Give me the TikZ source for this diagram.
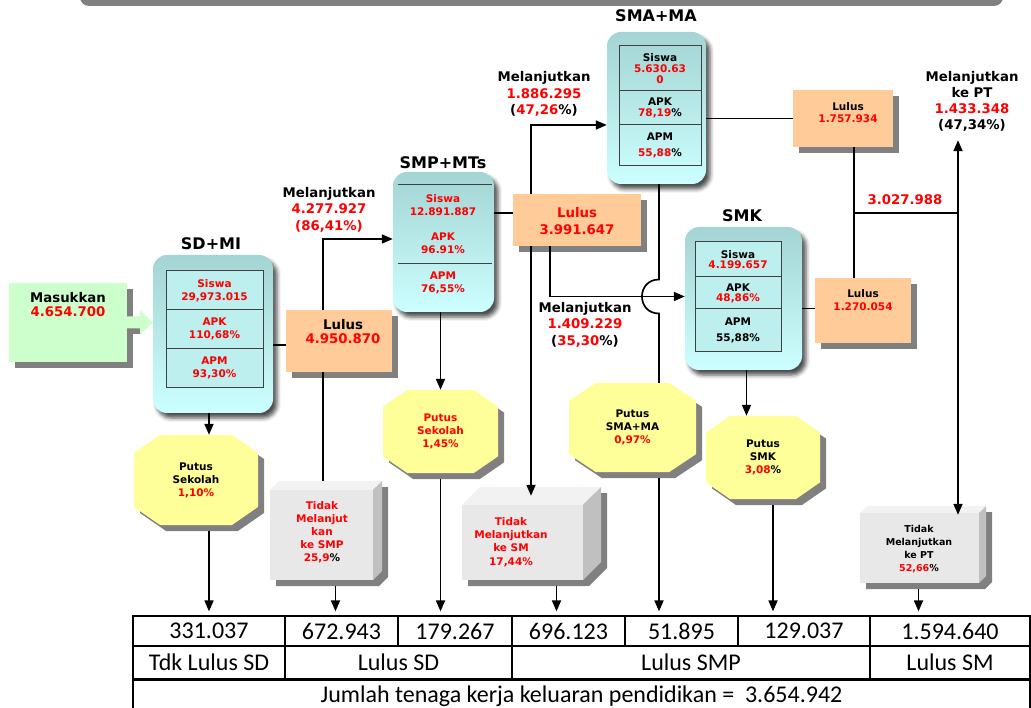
\documentclass[tikz,border=0pt]{standalone}
\usepackage{fontspec}
\setmainfont{DejaVu Sans}
\newfontfamily\tabfont{Carlito}
\usetikzlibrary{calc,shadows,shadows.blur,arrows.meta}
\definecolor{myred}{HTML}{FF0000}
\definecolor{peach}{HTML}{FFCC99}
\definecolor{lgreen}{HTML}{CCFFCC}
\definecolor{lyellow}{HTML}{FFFF99}
\definecolor{shadowgray}{HTML}{808080}
\definecolor{cyanlight}{HTML}{CCFFFF}
\definecolor{cyandark}{HTML}{A4D4D4}
\definecolor{cellfill}{HTML}{BDEFEF}
\definecolor{cellline}{HTML}{404040}
\definecolor{boxfront}{HTML}{E8E8E8}
\definecolor{boxtop}{HTML}{F2F2F2}
\definecolor{boxside}{HTML}{C0C0C0}
\newcommand\R[1]{\textcolor{myred}{#1}}
% octagon: name, cx, cy, half width, half height, fill, text
\newcommand\myocta[7]{%
  \foreach \s/\c in {6/shadowgray,0/#6}{%
    \fill[fill=\c] ({#2-0.58*#4+\s},{#3-#5+\s}) -- ({#2+0.58*#4+\s},{#3-#5+\s}) -- ({#2+#4+\s},{#3-0.6*#5+\s}) -- ({#2+#4+\s},{#3+0.6*#5+\s}) -- ({#2+0.58*#4+\s},{#3+#5+\s}) -- ({#2-0.58*#4+\s},{#3+#5+\s}) -- ({#2-#4+\s},{#3+0.6*#5+\s}) -- ({#2-#4+\s},{#3-0.6*#5+\s}) -- cycle;}
  \node[sml, minimum width=2*#4, minimum height=2*#5] (#1) at (#2,#3) {#7};}
% 3D box: name, x1, y1, x2, y2, depth
\newcommand\mycube[6]{%
  \fill[shadowgray] ({#2+6},{#3+6}) -- ({#2+#6+6},{#3-#6+6}) -- ({#4+#6+6},{#3-#6+6}) -- ({#4+#6+6},{#5-#6+6}) -- ({#4+6},{#5+6}) -- ({#2+6},{#5+6}) -- cycle;
  \fill[boxtop] (#2,#3) -- ({#2+#6},{#3-#6}) -- ({#4+#6},{#3-#6}) -- (#4,#3) -- cycle;
  \fill[boxside] (#4,#3) -- ({#4+#6},{#3-#6}) -- ({#4+#6},{#5-#6}) -- (#4,#5) -- cycle;
  \node[fill=boxfront, minimum width=#4-#2, minimum height=#5-#3, inner sep=0] (#1) at ({(#2+#4)/2},{(#3+#5)/2}) {};}
\begin{document}
\begin{tikzpicture}[x=1pt,y=-1pt,
  ln/.style={line width=1.7pt, draw=black},
  arr/.style={ln, -{Triangle[length=11pt,width=9pt]}},
  lbl/.style={font=\bfseries\fontsize{13.3}{16.5}\selectfont, align=center, inner sep=0},
  sml/.style={font=\bfseries\fontsize{10.5}{13}\selectfont, align=center, inner sep=0},
  ttl/.style={font=\bfseries\fontsize{16}{19}\selectfont, inner sep=0},
  rbox/.style={rounded corners=14pt, top color=cyandark, bottom color=cyanlight, inner sep=0,
    blur shadow={shadow xshift=4pt, shadow yshift=-5pt, shadow blur radius=4pt, shadow opacity=70}},
  cellb/.style={draw=cellline, line width=1pt, inner sep=0, sml},
  peachbox/.style={fill=peach, inner sep=0, drop shadow={shadow xshift=6pt, shadow yshift=-6pt, fill=shadowgray, opacity=1}},
  greenbox/.style={fill=lgreen, inner sep=0, drop shadow={shadow xshift=6pt, shadow yshift=-6pt, fill=shadowgray, opacity=1}},
  tcell/.style={draw=black, line width=1.2pt, inner sep=0, font=\tabfont\fontsize{24}{26}\selectfont}
]
\useasboundingbox (0,0) rectangle (1031,708);
% top bar
\fill[shadowgray, rounded corners=9pt] (80,-30) rectangle (1003,6);

% Masukkan
\node[greenbox, minimum width=118, minimum height=79] (mas) at (68,322.5) {};
\node[lbl, font=\bfseries\fontsize{13.3}{13.5}\selectfont] (mastext) at (68,304.5) {Masukkan\\\R{4.654.700}};

% SD+MI
\node[ttl] (sdmit) at (211,244) {SD+MI};
\node[rbox, minimum width=120, minimum height=158] (sdmi) at (213,334) {};
\node[cellb, fill=cellfill, minimum width=97, minimum height=38.7] (sd1) at (214.5,290.3) {\R{Siswa}\\\R{29,973.015}};
\node[cellb, fill=cellfill, minimum width=97, minimum height=38.7] (sd2) at (214.5,329) {\R{APK}\\\R{110,68\%}};
\node[cellb, fill=cellfill, minimum width=97, minimum height=38.7] (sd3) at (214.5,367.7) {\R{APM}\\\R{93,30\%}};

% green arrow
\fill[shadowgray] ($(mas.east)+(0,6)$) rectangle ($(mas.east)+(13,12)$);
\fill[lgreen] ($(mas.east)+(0,-6)$) -- ($(mas.east)+(13,-6)$) -- ($(mas.east)+(13,-12)$) -- (sdmi.west |- mas.east) -- ($(mas.east)+(13,12)$) -- ($(mas.east)+(13,6)$) -- ($(mas.east)+(0,6)$) -- cycle;

% SMP+MTs
\node[ttl] (smpt) at (443,163) {SMP+MTs};
\node[rbox, minimum width=101, minimum height=140] (smp) at (443.5,242) {};
\draw[line width=1.3pt, draw=cellline] ($(smp.north west)+(5,13)$) -- ($(smp.north east)+(-2,13)$);
\draw[line width=1.3pt, draw=cellline] ($(smp.north west)+(5,92)$) -- ($(smp.north east)+(-2,92)$);
\node[sml] (smp1) at (443,205) {\R{Siswa}\\\R{12.891.887}};
\node[sml] (smp2) at (443,243.5) {\R{APK}\\\R{96.91\%}};
\node[sml] (smp3) at (443,282.5) {\R{APM}\\\R{76,55\%}};

% SMA+MA
\node[ttl] (smat) at (656,16) {SMA+MA};
\node[rbox, minimum width=99, minimum height=152] (sma) at (656.5,108) {};
\node[cellb, minimum width=82, minimum height=45] (sa1) at (660,68.5) {Siswa\\[-2pt]\R{5.630.63}\\[-2pt]\R{0}};
\node[cellb, minimum width=82, minimum height=34] (sa2) at (660,108) {APK\\[-2pt]\R{78,19}\%};
\node[cellb, minimum width=82, minimum height=41] (sa3) at (660,145.5) {APM\\[3pt]\R{55,88}\%};

% SMK
\node[ttl] (smkt) at (742,216) {SMK};
\node[rbox, minimum width=117, minimum height=143] (smk) at (743.5,298.5) {};
\node[cellb, fill=cellfill, minimum width=86, minimum height=35] (sk1) at (738,259.5) {Siswa\\[-3pt]\R{4.199.657}};
\node[cellb, fill=cellfill, minimum width=86, minimum height=32] (sk2) at (738,293) {APK\\[-3pt]\R{48,86\%}};
\node[cellb, fill=cellfill, minimum width=86, minimum height=43] (sk3) at (738,330.5) {APM\\[3pt]55,88\%};

% Lulus boxes
\node[peachbox, minimum width=106, minimum height=62] (l1) at (339,341) {};
\node[lbl, font=\bfseries\fontsize{13.3}{14}\selectfont] (l1t) at (343,332) {Lulus\\\R{4.950.870}};
\node[peachbox, minimum width=128, minimum height=52] (l2) at (577,220) {};
\node[lbl] (l2t) at (577,221) {\R{Lulus}\\\R{3.991.647}};
\node[peachbox, minimum width=100, minimum height=57] (l3) at (843,118.5) {};
\node[sml, font=\bfseries\fontsize{10.5}{12}\selectfont] (l3t) at (848,113) {Lulus\\\R{1.757.934}};
\node[peachbox, minimum width=96, minimum height=65] (l4) at (863,310.5) {};
\node[sml] (l4t) at (863,300.5) {Lulus\\\R{1.270.054}};

% octagons
\myocta{o1}{196}{480}{62}{45}{lyellow}{Putus\\Sekolah\\\R{1,10\%}}
\myocta{o2}{440.5}{431.5}{57.5}{41.5}{lyellow}{\R{Putus}\\\R{Sekolah}\\\R{1,45\%}}
\myocta{o3}{632.5}{427.5}{63.5}{44.5}{lyellow}{Putus\\SMA+MA\\\R{0,97\%}}
\myocta{o4}{763}{457.5}{57}{41.5}{lyellow}{Putus\\SMK\\\R{3,08}\%}

% 3D boxes
\mycube{b1}{270}{490}{373}{580}{9}
\node[sml] (b1t) at (322,532) {\R{Tidak}\\\R{Melanjut}\\\R{kan}\\\R{ke SMP}\\\R{25,9}\%};
\mycube{b2}{462}{505}{583}{580}{18}
\node[sml, font=\bfseries\fontsize{10.5}{13.3}\selectfont] (b2t) at (511,542) {\R{Tidak}\\\R{Melanjutkan}\\\R{ke SM}\\\R{17,44\%}};
\mycube{b3}{860}{513}{979}{583}{7}
\node[sml, font=\bfseries\fontsize{9.5}{13}\selectfont] (b3t) at (919,549.5) {Tidak\\Melanjutkan\\ke PT\\\R{52,66}\%};

% labels
\node[lbl] (m1) at (329,209.5) {Melanjutkan\\\R{4.277.927}\\\R{(86,41\%)}};
\node[lbl] (m2) at (544,94) {Melanjutkan\\\R{1.886.295}\\(\R{47,26}\%)};
\node[lbl] (m3) at (585,324.5) {Melanjutkan\\\R{1.409.229}\\(\R{35,30}\%)};
\node[lbl, font=\bfseries\fontsize{13.3}{16}\selectfont] (m4) at (972,101) {Melanjutkan\\ke PT\\\R{1.433.348}\\(47,34\%)};
\node[lbl] (tot) at (905,200) {\R{3.027.988}};

% table
\node[tcell, minimum width=152, minimum height=30] (c1) at (209,631) {331.037};
\node[tcell, minimum width=113, minimum height=30] (c2) at (341.5,631) {672.943};
\node[tcell, minimum width=114, minimum height=30] (c3) at (455,631) {179.267};
\node[tcell, minimum width=113, minimum height=30] (c4) at (568.5,631) {696.123};
\node[tcell, minimum width=113, minimum height=30] (c5) at (681.5,631) {51.895};
\node[tcell, minimum width=132, minimum height=30] (c6) at (804,631) {129.037};
\node[tcell, minimum width=160, minimum height=30] (c7) at (950,631) {1.594.640};
\node[tcell, minimum width=152, minimum height=33] (d1) at (209,662.5) {Tdk Lulus SD};
\node[tcell, minimum width=227, minimum height=33] (d2) at (398.5,662.5) {Lulus SD};
\node[tcell, minimum width=358, minimum height=33] (d3) at (691,662.5) {Lulus SMP};
\node[tcell, minimum width=160, minimum height=33] (d4) at (950,662.5) {Lulus SM};
\node[tcell, minimum width=897, minimum height=34] (e1) at (581.5,696) {Jumlah tenaga kerja keluaran pendidikan = \ 3.654.942};
\draw[line width=2.4pt] (d1.south west) -- (d4.south east);

% connectors
\draw[ln] ($(sdmi.east |- l1.west)+(0,4)$) -- ($(l1.west)+(0,4)$);
\draw[arr] ($(l1.north)+(-16,0)$) |- ($(smp.west)+(0,-3)$);
\draw[ln] ($(l1.south)+(-16,0)$) -- ($(b1.north -| l1.south)+(-16,-9)$);
\draw[arr] (sdmi.south -| c1.north) -- (o1.north -| c1.north);
\draw[arr] ($(o1.south -| c1.north)+(0,6)$) -- ($(c1.north)+(0,-4)$);
\draw[arr] ($(b1.south)+(14,6)$) -- ($(c2.north -| b1.south)+(14,-4)$);
\draw[arr] (smp.south -| o2.north) -- (o2.north);
\draw[arr] ($(o2.south)+(0,6)$) -- ($(c3.north -| o2.south)+(0,-4)$);
\draw[ln] ($(smp.east |- l2.west)+(0,-7)$) -- ($(l2.west)+(0,-7)$);
\draw[arr] ($(l2.north)+(-46,0)$) |- ($(sma.west)+(0,17)$);
\draw[arr] ($(l2.south)+(-46,0)$) -- ($(b2.north -| l2.south)+(-46,-9)$);
\draw[arr] ($(b2.south)+(34,6)$) -- ($(c4.north -| b2.south)+(34,-4)$);
\coordinate (jx) at ($(sma.south |- smk.west)+(2.5,-2)$);
\draw[arr] ($(l2.south)+(-27,0)$) |- ($(smk.west)+(0,-2)$);
\draw[ln] ($(sma.south)+(2.5,0)$) -- ($(jx)+(0,-17)$) .. controls +(-22.7,0) and +(-22.7,0) .. ($(jx)+(0,17)$) -- (o3.north -| jx);
\draw[arr] ($(o3.south -| jx)+(0,6)$) -- ($(c5.north -| jx)+(0,-4)$);
\draw[ln] (sma.east |- l3.west) -- (l3.west);
\draw[ln] ($(smk.east |- l4.west)+(0,-2)$) -- ($(l4.west)+(0,-2)$);
\coordinate (j1) at (854,213);
\coordinate (j2) at (958,213);
\draw[ln] (l3.south -| j1) -- (l4.north -| j1);
\draw[ln] (j1) -- (j2);
\draw[arr] (j2) -- ($(j2 |- m4.south)+(0,9)$);
\draw[arr] (j2) -- ($(j2 |- b3.north)+(0,2)$);
\draw[arr] ($(smk.south)+(3,0)$) -- ($(o4.north -| smk.south)+(3,0)$);
\draw[arr] ($(o4.south)+(10,6)$) -- ($(c6.north -| o4.south)+(10,-4)$);
\draw[arr] ($(b3.south)+(-1,6)$) -- ($(c7.north -| b3.south)+(-1,-4)$);
\end{tikzpicture}
\end{document}
